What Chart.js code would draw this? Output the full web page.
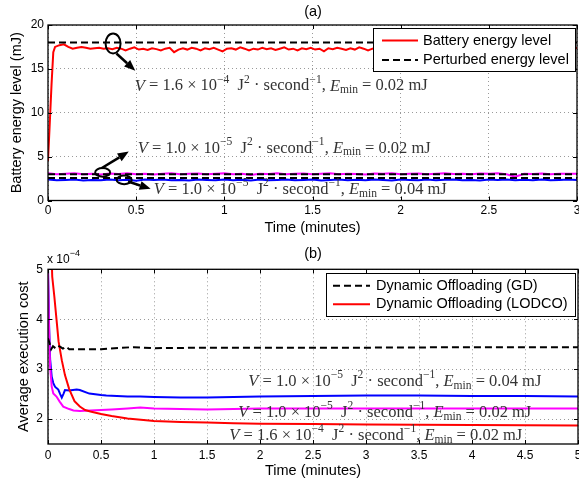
<!DOCTYPE html>
<html>
<head>
<meta charset="utf-8">
<script src="https://cdn.jsdelivr.net/npm/chart.js@4.4.1/dist/chart.umd.min.js"></script>
<style>
  body { margin: 0; background: #fff; width: 579px; height: 483px; position: relative; overflow: hidden; }
  canvas { position: absolute; left: 0; }
  #chartA { top: 0; }
  #chartB { top: 240px; }
</style>
</head>
<body>
<canvas id="chartA" width="579" height="240"></canvas>
<canvas id="chartB" width="579" height="243"></canvas>
<script>
// ---- panel (a): battery energy level (mJ) ----
const xTicksA = [0, 0.5, 1, 1.5, 2, 2.5, 3];
const yTicksA = [0, 5, 10, 15, 20];

// V = 1.6e-4, Emin = 0.02 : fast rise then noisy level
const riseT = [0, 0.01, 0.02, 0.03];
const riseRed = [4.5, 8.8, 13.2, 16.9];
const redStart = 0.04, redStep = 0.025;
const redLevel = [
  17.5, 17.7, 17.8, 17.5, 17.3, 17.4, 17.5, 17.4, 17.3, 17.35,
  17.4, 17.3, 17.35, 17.25, 17.4, 17.3, 17.1, 17.3, 17.45, 17.2,
  17.3, 17.15, 17.35, 17.25, 17.1, 17.3, 17.4, 16.9, 17.2, 17.35,
  17.2, 17.4, 17.3, 17.1, 17.35, 17.25, 17.4, 17.2, 17.0, 17.3,
  17.35, 17.2, 17.45, 17.3, 17.1, 17.3, 17.2, 17.4, 17.25, 17.35,
  17.15, 17.3, 17.45, 17.2, 17.3, 17.1, 17.35, 17.25, 17.4, 17.2,
  17.3, 17.0, 17.35, 17.25, 17.4, 17.3, 17.15, 17.35, 17.2, 17.45,
  17.3, 17.1, 17.3, 17.4, 17.2, 17.35, 17.25, 17.1, 17.3, 17.4,
  17.2, 17.35, 17.0, 17.3, 17.25, 17.4, 17.2, 17.35, 17.3, 17.15,
  17.4, 17.25, 17.3, 17.1, 17.35, 17.2, 17.45, 17.3, 17.15, 17.3,
  17.4, 17.2, 17.3, 17.05, 17.35, 17.25, 17.4, 17.2, 17.3, 17.35,
  17.2, 17.4, 17.25, 17.1, 17.3, 17.35, 17.2, 17.3, 17.45, 17.2
];
// V = 1.0e-5 : sampled every 0.05 min
const lowStep = 0.05;
const magentaLevel = [
  3.1, 3.0, 3.05, 3.1, 3.0, 3.05, 2.95, 3.08, 3.02, 3.1,
  3.0, 3.06, 2.95, 3.05, 3.1, 3.0, 3.04, 3.08, 2.98, 3.06,
  3.1, 3.0, 3.05, 2.9, 3.06, 3.02, 3.1, 3.0, 3.05, 3.08,
  2.98, 3.05, 3.1, 3.0, 3.06, 3.02, 2.95, 3.08, 3.04, 3.1,
  3.0, 3.05, 3.08, 2.98, 3.06, 3.1, 3.02, 3.05, 3.0, 3.08,
  3.04, 3.1, 2.98, 2.7, 3.05, 3.02, 3.08, 3.0, 3.06, 3.04, 3.05
];
const blueLevel = [
  2.4, 2.3, 2.35, 2.4, 2.28, 2.35, 2.32, 2.4, 2.3, 2.36,
  2.25, 2.38, 2.33, 2.4, 2.3, 2.35, 2.28, 2.38, 2.34, 2.3,
  2.4, 2.32, 2.36, 2.28, 2.38, 2.3, 2.35, 2.4, 2.3, 2.34,
  2.38, 2.28, 2.35, 2.4, 2.32, 2.36, 2.3, 2.38, 2.33, 2.28,
  2.4, 2.34, 2.3, 2.38, 2.32, 2.36, 2.4, 2.3, 2.35, 2.28,
  2.38, 2.33, 2.4, 2.3, 2.36, 2.32, 2.38, 2.3, 2.35, 2.4, 2.34
];
const perturbedLevels = [18, 3.0, 2.55];

// ---- panel (b): average execution cost (x 1e-4) ----
const xTicksB = [0, 0.5, 1, 1.5, 2, 2.5, 3, 3.5, 4, 4.5, 5];
const yTicksB = [2, 3, 4, 5];

const gdT = [0, 0.015, 0.03, 0.047, 0.07, 0.095, 0.12, 0.14, 0.17, 0.2, 0.3, 0.5, 0.7, 0.81, 1.0, 1.5, 2.0, 3.0, 4.0, 5.0];
const gdCost = [3.62, 3.52, 3.4, 3.46, 3.42, 3.47, 3.44, 3.41, 3.45, 3.4, 3.4, 3.4, 3.43, 3.44, 3.42, 3.43, 3.43, 3.43, 3.44, 3.44];

const lodcoT = [0, 0.02, 0.04, 0.06, 0.08, 0.1, 0.13, 0.16, 0.2, 0.25, 0.3, 0.35, 0.4, 0.5, 0.6, 0.75, 0.9, 1.0, 1.25, 1.5, 1.75, 2.0, 2.5, 3.0, 3.5, 4.0, 4.5, 5.0];
const lodcoHighV = [7.5, 6.2, 4.85, 4.45, 4.0, 3.55, 3.18, 2.88, 2.6, 2.36, 2.25, 2.18, 2.15, 2.1, 2.06, 2.01, 1.98, 1.96, 1.94, 1.93, 1.915, 1.905, 1.9, 1.89, 1.885, 1.88, 1.875, 1.87];

const blueT = [0, 0.01, 0.02, 0.035, 0.05, 0.066, 0.08, 0.097, 0.115, 0.13, 0.145, 0.16, 0.2, 0.27, 0.3, 0.39, 0.5, 0.55, 0.75, 0.87, 1.0, 1.25, 1.5, 2.0, 2.5, 3.0, 3.5, 4.0, 4.5, 5.0];
const blueCost = [5.0, 3.9, 3.2, 2.85, 2.72, 2.65, 2.62, 2.59, 2.5, 2.43, 2.5, 2.58, 2.57, 2.59, 2.58, 2.51, 2.48, 2.47, 2.45, 2.45, 2.44, 2.43, 2.43, 2.45, 2.46, 2.47, 2.47, 2.46, 2.46, 2.45];

const magentaT = [0, 0.01, 0.02, 0.035, 0.05, 0.08, 0.11, 0.144, 0.2, 0.24, 0.3, 0.4, 0.5, 0.6, 0.75, 0.87, 1.0, 1.25, 1.5, 1.75, 2.0, 2.5, 3.0, 3.5, 4.0, 4.5, 5.0];
const magentaCost = [5.0, 3.8, 3.05, 2.65, 2.51, 2.45, 2.35, 2.25, 2.2, 2.17, 2.16, 2.17, 2.18, 2.19, 2.21, 2.23, 2.21, 2.2, 2.19, 2.2, 2.21, 2.21, 2.21, 2.21, 2.21, 2.21, 2.21];

const RED = '#ff0000', BLUE = '#0000ff', MAGENTA = '#ff00ff', BLACK = '#000000';
const SANS = '"Liberation Sans", Arial, sans-serif';
const SERIF = '"Liberation Serif", "Times New Roman", serif';
const MATH_SIZE = 16.5;

function pts(ts, vs) { return vs.map((v, i) => ({ x: ts[i], y: v })); }
function stepPts(start, step, vs) { return vs.map((v, i) => ({ x: start + i * step, y: v })); }

function mathLabel(mant, expo, emin) {
  return [
    ['V', 'i'], [' = ' + mant + ' \u00d7 10', 'r'], ['\u2212' + expo, 'u'],
    ['  J', 'r'], ['2', 'u'], [' \u00b7 second', 'r'], ['\u22121', 'u'],
    [', ', 'r'], ['E', 'i'], ['min', 'd'], [' = ' + emin + ' mJ', 'r']
  ];
}

function drawMath(ctx, x, y, parts, size) {
  let cx = x;
  ctx.textBaseline = 'middle';
  ctx.textAlign = 'left';
  parts.forEach(([s, k]) => {
    const small = (k === 'u' || k === 'd');
    const sz = small ? size * 0.7 : size;
    ctx.font = (k === 'i' ? 'italic ' : '') + sz + 'px ' + SERIF;
    const dy = k === 'u' ? -size * 0.4 : (k === 'd' ? size * 0.25 : 0);
    ctx.fillText(s, cx, y + dy);
    cx += ctx.measureText(s).width;
  });
}

function arrow(ctx, x1, y1, x2, y2) {
  const a = Math.atan2(y2 - y1, x2 - x1);
  const hl = 11, hw = 4.5;
  const bx = x2 - hl * Math.cos(a), by = y2 - hl * Math.sin(a);
  ctx.beginPath();
  ctx.moveTo(x1, y1);
  ctx.lineTo(bx, by);
  ctx.stroke();
  ctx.beginPath();
  ctx.moveTo(x2, y2);
  ctx.lineTo(bx + hw * Math.sin(a), by - hw * Math.cos(a));
  ctx.lineTo(bx - hw * Math.sin(a), by + hw * Math.cos(a));
  ctx.closePath();
  ctx.fill();
}

// box + inward MATLAB-style ticks
const framePlugin = {
  id: 'frame',
  afterDraw(chart) {
    const { ctx, chartArea: a, scales } = chart;
    ctx.save();
    ctx.strokeStyle = BLACK;
    ctx.lineWidth = 1.3;
    ctx.strokeRect(a.left, a.top, a.right - a.left, a.bottom - a.top);
    ctx.lineWidth = 1;
    const L = 4;
    ctx.beginPath();
    scales.x.ticks.forEach(t => {
      const x = Math.round(scales.x.getPixelForValue(t.value)) + 0.5;
      ctx.moveTo(x, a.bottom); ctx.lineTo(x, a.bottom - L);
      ctx.moveTo(x, a.top); ctx.lineTo(x, a.top + L);
    });
    scales.y.ticks.forEach(t => {
      const y = Math.round(scales.y.getPixelForValue(t.value)) + 0.5;
      ctx.moveTo(a.left, y); ctx.lineTo(a.left + L, y);
      ctx.moveTo(a.right, y); ctx.lineTo(a.right - L, y);
    });
    ctx.stroke();
    ctx.restore();
  }
};

function notesPlugin(cfg) {
  return {
    id: 'notes',
    afterDraw(chart) {
      const { ctx, chartArea: a, scales } = chart;
      const X = v => scales.x.getPixelForValue(v);
      const Y = v => scales.y.getPixelForValue(v);
      ctx.save();
      ctx.strokeStyle = BLACK;
      ctx.lineWidth = 2;
      (cfg.ellipses || []).forEach(e => {
        ctx.beginPath();
        ctx.ellipse(X(e.t), Y(e.v), e.rx, e.ry, 0, 0, Math.PI * 2);
        ctx.stroke();
      });
      ctx.lineWidth = 2.5;
      ctx.fillStyle = BLACK;
      (cfg.arrows || []).forEach(r => arrow(ctx, X(r.from[0]), Y(r.from[1]), X(r.to[0]), Y(r.to[1])));
      ctx.fillStyle = '#333';
      (cfg.texts || []).forEach(n => drawMath(ctx, X(n.t), Y(n.v), n.parts, MATH_SIZE));

      // legend box
      const lg = cfg.legend;
      ctx.fillStyle = '#fff';
      ctx.fillRect(lg.left, lg.top, lg.right - lg.left, lg.bottom - lg.top);
      ctx.strokeStyle = BLACK;
      ctx.lineWidth = 1;
      ctx.strokeRect(lg.left + 0.5, lg.top + 0.5, lg.right - lg.left, lg.bottom - lg.top);
      ctx.font = '14.5px ' + SANS;
      ctx.textBaseline = 'middle';
      ctx.textAlign = 'left';
      lg.items.forEach((it, i) => {
        const y = lg.rows[i];
        ctx.strokeStyle = it.color;
        ctx.lineWidth = 2;
        ctx.setLineDash(it.dash || []);
        ctx.beginPath();
        ctx.moveTo(lg.lineX[0], y); ctx.lineTo(lg.lineX[1], y);
        ctx.stroke();
        ctx.setLineDash([]);
        ctx.fillStyle = BLACK;
        ctx.fillText(it.label, lg.textX, y);
      });

      // panel title
      ctx.font = '14.5px ' + SANS;
      ctx.textAlign = 'center';
      ctx.fillStyle = BLACK;
      ctx.fillText(cfg.title, 313, cfg.titleY);
      if (cfg.expo) {
        ctx.textAlign = 'left';
        ctx.textBaseline = 'alphabetic';
        ctx.font = '12px ' + SANS;
        ctx.fillText('x 10', a.left - 1, a.top - 6);
        const w = ctx.measureText('x 10').width;
        ctx.font = '9px ' + SANS;
        ctx.fillText('\u22124', a.left - 1 + w, a.top - 13);
      }
      ctx.restore();
    }
  };
}

function axisOpts(min, max, ticks, title, side, fit) {
  return {
    type: 'linear', min: min, max: max,
    afterBuildTicks: s => { s.ticks = ticks.map(v => ({ value: v })); },
    afterFit: s => {
      if (side === 'x') { s.height = fit; } else { s.width = fit; }
      s.paddingLeft = 0; s.paddingRight = 0; s.paddingTop = 0; s.paddingBottom = 0;
    },
    ticks: {
      color: BLACK, font: { family: SANS, size: 12 }, maxRotation: 0, autoSkip: false,
      padding: 4, callback: v => String(v)
    },
    grid: { color: '#9a9a9a', lineWidth: 1, drawTicks: false },
    border: { display: false, dash: [1, 3] },
    title: { display: true, text: title, color: BLACK, font: { family: SANS, size: 14.5 } }
  };
}

function lineSet(data, color, dash) {
  return { data: data, borderColor: color, borderWidth: 2, borderDash: dash || [], pointRadius: 0, fill: false, tension: 0 };
}

// ---- chart (a)
const scalesA = {
  x: axisOpts(0, 3, xTicksA, 'Time (minutes)', 'x', 39.5),
  y: axisOpts(0, 20, yTicksA, 'Battery energy level (mJ)', 'y', 48)
};
scalesA.x.title.padding = { top: 0, bottom: 3 };
scalesA.y.title.padding = { top: 8, bottom: 0 };
scalesA.x.ticks.padding = 3;
scalesA.y.ticks.padding = 4;

const dashed = [7, 4];
const perturbedSets = perturbedLevels.map(v => lineSet([{ x: 0, y: v }, { x: 3, y: v }], BLACK, dashed));

new Chart(document.getElementById('chartA'), {
  type: 'line',
  data: {
    datasets: perturbedSets.concat([
      lineSet(stepPts(0, lowStep, blueLevel), BLUE),
      lineSet(stepPts(0, lowStep, magentaLevel), MAGENTA),
      lineSet(pts(riseT, riseRed).concat(stepPts(redStart, redStep, redLevel)), RED)
    ])
  },
  options: {
    responsive: false, animation: false, devicePixelRatio: 1,
    layout: { padding: { top: 25, right: 2, left: 0, bottom: 0 } },
    plugins: { legend: { display: false }, tooltip: { enabled: false }, title: { display: false } },
    scales: scalesA
  },
  plugins: [framePlugin, notesPlugin({
    title: '(a)', titleY: 12,
    ellipses: [
      { t: 0.369, v: 17.9, rx: 7.5, ry: 10 },
      { t: 0.31, v: 3.2, rx: 7.5, ry: 4.3 },
      { t: 0.432, v: 2.35, rx: 7.5, ry: 4.3 }
    ],
    arrows: [
      { from: [0.388, 16.75], to: [0.495, 14.8] },
      { from: [0.303, 3.68], to: [0.458, 5.57] },
      { from: [0.454, 2.16], to: [0.582, 1.33] }
    ],
    texts: [
      { t: 0.492, v: 13.03, parts: mathLabel('1.6', '4', '0.02') },
      { t: 0.509, v: 5.95, parts: mathLabel('1.0', '5', '0.02') },
      { t: 0.6, v: 1.22, parts: mathLabel('1.0', '5', '0.04') }
    ],
    legend: {
      left: 373, top: 28, right: 575, bottom: 71,
      rows: [40.5, 60], lineX: [382, 418], textX: 423,
      items: [
        { label: 'Battery energy level', color: RED },
        { label: 'Perturbed energy level', color: BLACK, dash: dashed }
      ]
    }
  })]
});

// ---- chart (b)
const scalesB = {
  x: axisOpts(0, 5, xTicksB, 'Time (minutes)', 'x', 39),
  y: axisOpts(1.5, 5, yTicksB, 'Average execution cost', 'y', 48)
};
scalesB.x.title.padding = { top: 0, bottom: 3 };
scalesB.y.title.padding = { top: 15, bottom: 0 };
scalesB.x.ticks.padding = 4;
scalesB.y.ticks.padding = 5;

new Chart(document.getElementById('chartB'), {
  type: 'line',
  data: {
    datasets: [
      lineSet(pts(gdT, gdCost), BLACK, dashed),
      lineSet(pts(lodcoT, lodcoHighV), RED),
      lineSet(pts(magentaT, magentaCost), MAGENTA),
      lineSet(pts(blueT, blueCost), BLUE)
    ]
  },
  options: {
    responsive: false, animation: false, devicePixelRatio: 1,
    layout: { padding: { top: 29.3, right: 1, left: 0, bottom: 0 } },
    plugins: { legend: { display: false }, tooltip: { enabled: false }, title: { display: false } },
    scales: scalesB
  },
  plugins: [framePlugin, notesPlugin({
    title: '(b)', titleY: 14, expo: true,
    texts: [
      { t: 1.89, v: 2.75, parts: mathLabel('1.0', '5', '0.04') },
      { t: 1.795, v: 2.13, parts: mathLabel('1.0', '5', '0.02') },
      { t: 1.71, v: 1.66, parts: mathLabel('1.6', '4', '0.02') }
    ],
    legend: {
      left: 326, top: 33, right: 575, bottom: 76,
      rows: [45.7, 64.3], lineX: [333, 370], textX: 376,
      items: [
        { label: 'Dynamic Offloading (GD)', color: BLACK, dash: dashed },
        { label: 'Dynamic Offloading (LODCO)', color: RED }
      ]
    }
  })]
});
</script>
</body>
</html>
